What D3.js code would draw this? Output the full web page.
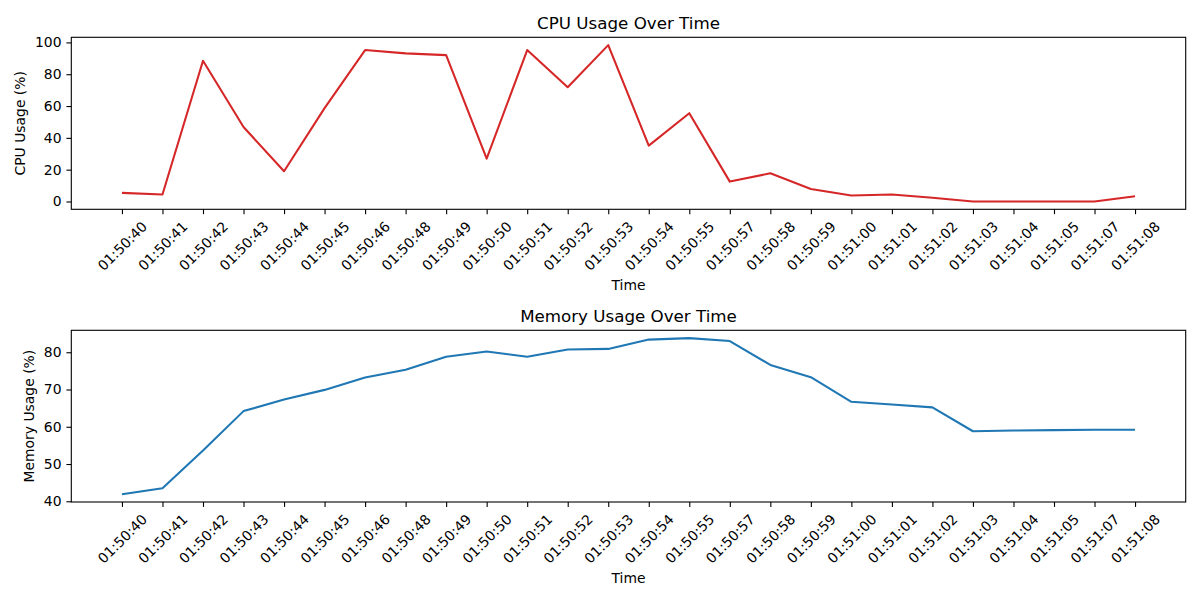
<!DOCTYPE html>
<html>
<head>
<meta charset="utf-8">
<script src="https://cdn.jsdelivr.net/npm/d3@7"></script>
<style>
  body { margin: 0; background: #fff; }
  svg text { font-family: "DejaVu Sans", sans-serif; fill: #000; }
</style>
</head>
<body>
<div id="chart"></div>
<script>
// data
var times = ["01:50:40", "01:50:41", "01:50:42", "01:50:43", "01:50:44", "01:50:45",
  "01:50:46", "01:50:48", "01:50:49", "01:50:50", "01:50:51", "01:50:52", "01:50:53",
  "01:50:54", "01:50:55", "01:50:57", "01:50:58", "01:50:59", "01:51:00", "01:51:01",
  "01:51:02", "01:51:03", "01:51:04", "01:51:05", "01:51:07", "01:51:08"];

var cpu = [5.4, 4.4, 88.5, 46.8, 19.0, 58.7, 95.2, 93.1, 92.0, 26.9, 95.2, 71.8, 98.3,
  35.1, 55.5, 12.5, 17.7, 7.9, 3.8, 4.4, 2.3, 0, 0, 0, 0, 3.3];

var memory = [41.9, 43.5, 53.6, 64.2, 67.3, 69.9, 73.2, 75.3, 78.8, 80.2, 78.8, 80.75, 80.9,
  83.4, 83.8, 83.0, 76.6, 73.3, 66.7, 66.0, 65.2, 58.8, 59.0, 59.1, 59.2, 59.2];

var cpuTicks = [0, 20, 40, 60, 80, 100];
var memTicks = [40, 50, 60, 70, 80];

var W = 1200, H = 600;
var fs = 13.9;       // 10pt at 100 dpi
var tickLen = 4.9, tickPad = 4.9;

var svg = d3.select("#chart").append("svg")
    .attr("width", W)
    .attr("height", H);

var left = 71.3, right = 1185.7;

// same spacing for both panels
var x = d3.scalePoint()
    .domain(times)
    .range([left, right])
    .padding(1.25);

function panel(opts) {
  var top = opts.top, bottom = opts.bottom;
  var ext = d3.extent(opts.values);
  var pad = (ext[1] - ext[0]) * 0.05;
  var y = d3.scaleLinear()
      .domain([ext[0] - pad, ext[1] + pad])
      .range([bottom, top]);

  var g = svg.append("g");

  // x axis
  var xa = g.append("g")
      .attr("class", "x axis")
      .attr("transform", "translate(0," + bottom + ")")
      .call(d3.axisBottom(x).tickSize(tickLen).tickPadding(tickPad));
  xa.select(".domain").remove();
  xa.selectAll("line").attr("stroke", "#000").attr("stroke-width", 1.1);
  xa.selectAll("text")
      .style("font-size", fs + "px")
      .attr("fill", "#000")
      .each(function() {
        var w = this.getComputedTextLength();
        var half = (w + fs) * Math.SQRT1_2 / 2;
        d3.select(this)
            .attr("y", 0)
            .attr("dy", "0.35em")
            .attr("text-anchor", "middle")
            .attr("transform", "translate(0," + (tickLen + tickPad + half) + ") rotate(-45)");
      });

  // y axis
  var ya = g.append("g")
      .attr("class", "y axis")
      .attr("transform", "translate(" + left + ",0)")
      .call(d3.axisLeft(y).tickValues(opts.ticks).tickSize(tickLen).tickPadding(tickPad));
  ya.select(".domain").remove();
  ya.selectAll("line").attr("stroke", "#000").attr("stroke-width", 1.1);
  ya.selectAll("text").style("font-size", fs + "px").attr("fill", "#000");

  // the line
  var line = d3.line()
      .x(function(d, i) { return x(times[i]); })
      .y(function(d) { return y(d); });

  g.append("path")
      .datum(opts.values)
      .attr("fill", "none")
      .attr("stroke", opts.color)
      .attr("stroke-width", 2.08)
      .attr("stroke-linejoin", "round")
      .attr("d", line);

  // frame
  g.append("rect")
      .attr("x", left)
      .attr("y", top)
      .attr("width", right - left)
      .attr("height", bottom - top)
      .attr("fill", "none")
      .attr("stroke", "#000")
      .attr("stroke-width", 1.1);

  // title
  g.append("text")
      .attr("x", (left + right) / 2)
      .attr("y", top - 8.3)
      .attr("text-anchor", "middle")
      .style("font-size", "16.7px")
      .text(opts.title);

  // x label
  g.append("text")
      .attr("x", (left + right) / 2)
      .attr("y", bottom + 80.7)
      .attr("text-anchor", "middle")
      .style("font-size", fs + "px")
      .text("Time");

  // y label
  g.append("text")
      .attr("transform", "translate(" + opts.ylabelX + "," + ((top + bottom) / 2) + ") rotate(-90)")
      .attr("text-anchor", "middle")
      .style("font-size", fs + "px")
      .text(opts.ylabel);
}

panel({
  top: 37.3, bottom: 209.3,
  values: cpu, ticks: cpuTicks,
  color: "#d62728",
  title: "CPU Usage Over Time",
  ylabel: "CPU Usage (%)",
  ylabelX: 25
});

panel({
  top: 330.3, bottom: 502,
  values: memory, ticks: memTicks,
  color: "#1f77b4",
  title: "Memory Usage Over Time",
  ylabel: "Memory Usage (%)",
  ylabelX: 33.8
});
</script>
</body>
</html>
